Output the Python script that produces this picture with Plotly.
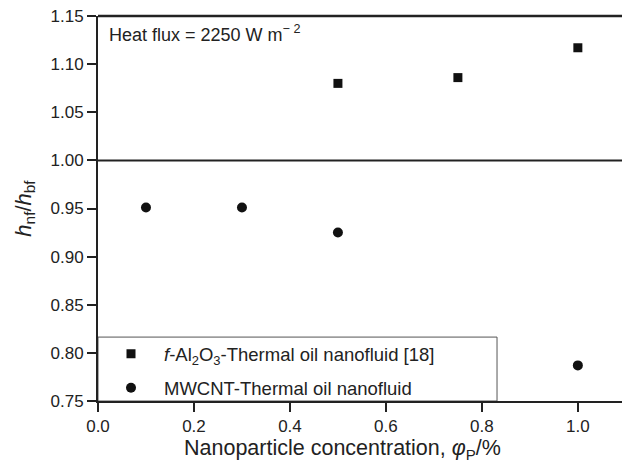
import plotly.graph_objects as go

# Data
al_x = [0.5, 0.75, 1.0]
al_y = [1.080, 1.086, 1.117]
cnt_x = [0.1, 0.3, 0.5, 1.0]
cnt_y = [0.951, 0.951, 0.925, 0.787]

al_name = "<i>f</i>-Al<sub>2</sub>O<sub>3</sub>-Thermal oil nanofluid [18]"
cnt_name = "MWCNT-Thermal oil nanofluid"

x_ticks = [0.0, 0.2, 0.4, 0.6, 0.8, 1.0]
y_ticks = [0.75, 0.80, 0.85, 0.90, 0.95, 1.00, 1.05, 1.10, 1.15]

FONT = "Liberation Sans, Arial, sans-serif"

fig = go.Figure()
fig.add_trace(go.Scatter(x=al_x, y=al_y, mode="markers", name=al_name,
                         legendgroup="a",
                         marker=dict(symbol="square", size=9, color="#111111")))
fig.add_trace(go.Scatter(x=cnt_x, y=cnt_y, mode="markers", name=cnt_name,
                         legendgroup="b",
                         marker=dict(symbol="circle", size=10, color="#111111")))

# legend frame
fig.add_shape(type="rect", xref="paper", yref="paper", x0=0, x1=0.7615, y0=0, y1=0.166,
              line=dict(color="#555555", width=1), fillcolor="white", layer="below")
fig.add_shape(type="line", xref="paper", yref="y", x0=0, x1=1, y0=1.0, y1=1.0,
              line=dict(color="#222222", width=2))
fig.add_shape(type="line", xref="paper", yref="paper", x0=0, x1=1, y0=1, y1=1,
              line=dict(color="#222222", width=2.5))

fig.add_annotation(text="Heat flux = 2250 W m<sup>\u2212 2</sup>", xref="paper", yref="paper",
                   x=0.018, y=0.99, xanchor="left", yanchor="top", showarrow=False,
                   font=dict(family=FONT, size=18, color="#222222"))

fig.add_annotation(text="Nanoparticle concentration, <i>\u03c6</i><sub>P</sub>/%",
                   xref="paper", yref="paper", x=0.4666, y=-0.085, xanchor="center",
                   yanchor="top", showarrow=False,
                   font=dict(family=FONT, size=21.5, color="#222222"))

fig.update_layout(
    width=622, height=467,
    margin=dict(l=98, r=0, t=16, b=66),
    plot_bgcolor="white", paper_bgcolor="white",
    font=dict(family=FONT, size=17, color="#222222"),
    showlegend=True,
    legend=dict(x=0, y=-0.016, xanchor="left", yanchor="bottom",
                borderwidth=0, bgcolor="rgba(0,0,0,0)",
                font=dict(family=FONT, size=18.5, color="#222222"),
                tracegroupgap=7, itemwidth=56),
    xaxis=dict(range=[0, 1.092], tickvals=x_ticks,
               ticktext=[f"{v:.1f}" for v in x_ticks],
               showgrid=False, zeroline=False, showline=True, linecolor="#222222",
               linewidth=2, ticks="outside", ticklen=9, tickcolor="#222222", tickwidth=1.5),
    yaxis=dict(range=[0.75, 1.15], tickvals=y_ticks,
               ticktext=[f"{v:.2f}" for v in y_ticks],
               showgrid=False, zeroline=False, showline=True, linecolor="#222222",
               linewidth=2, ticks="outside", ticklen=9, tickcolor="#222222", tickwidth=1.5,
               title=dict(text="<i>h</i><sub>nf</sub>/<i>h</i><sub>bf</sub>",
                          font=dict(family=FONT, size=22, color="#222222"), standoff=13)),
)

fig.write_html("out.html")
